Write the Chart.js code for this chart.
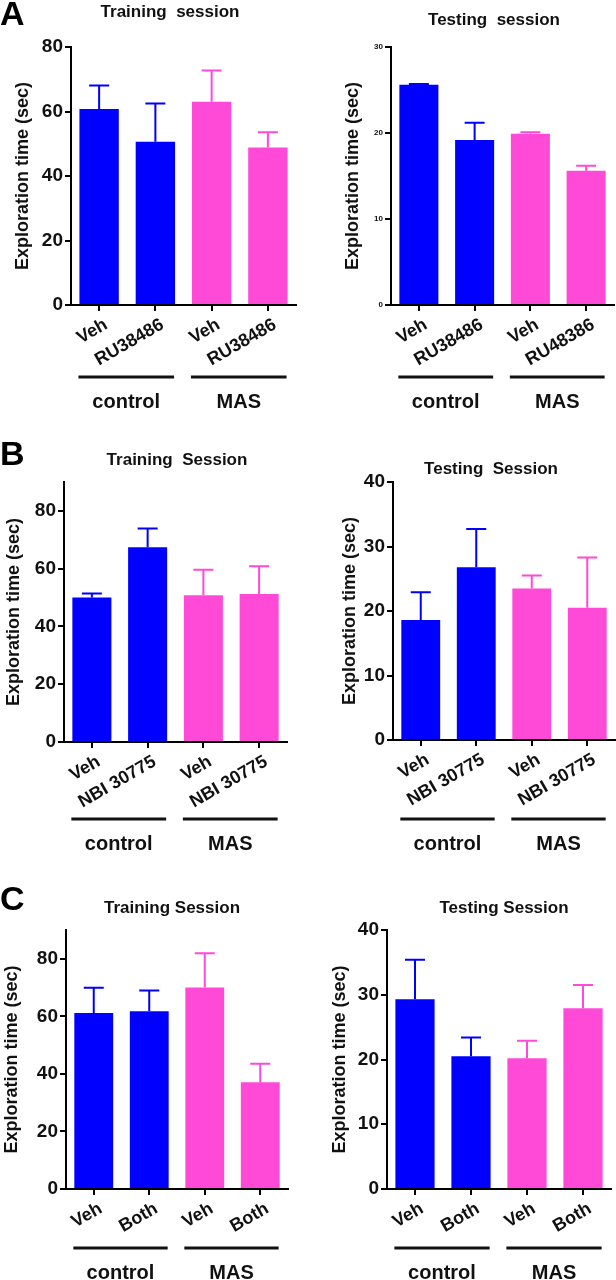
<!DOCTYPE html>
<html><head><meta charset="utf-8">
<script src="https://cdn.jsdelivr.net/npm/chart.js@4.4.1/dist/chart.umd.min.js"></script>
<style>
html,body{margin:0;padding:0;background:#fff;}
body{width:616px;height:1280px;position:relative;overflow:hidden;}
canvas{position:absolute;}
</style></head>
<body>
<script>
// ---------- data ----------
const groupNames = ['control', 'MAS'];
const barColors = ['#0000FF', '#0000FF', '#FF4AD8', '#FF4AD8'];
const yTitle = 'Exploration time (sec)';

const aTrainLabels = ['Veh', 'RU38486', 'Veh', 'RU38486'];
const aTrainMean = [60.8, 50.6, 63.0, 48.8];
const aTrainSem = [7.3, 11.9, 9.7, 4.8];
const aTrainTicks = [0, 20, 40, 60, 80];

const aTestLabels = ['Veh', 'RU38486', 'Veh', 'RU48386'];
const aTestMean = [25.6, 19.2, 19.9, 15.6];
const aTestSem = [0.1, 2.0, 0.2, 0.6];
const aTestTicks = [0, 10, 20, 30];

const bTrainLabels = ['Veh', 'NBI 30775', 'Veh', 'NBI 30775'];
const bTrainMean = [50.0, 67.4, 50.8, 51.2];
const bTrainSem = [1.4, 6.5, 8.8, 9.6];
const bTrainTicks = [0, 20, 40, 60, 80];

const bTestLabels = ['Veh', 'NBI 30775', 'Veh', 'NBI 30775'];
const bTestMean = [18.6, 26.8, 23.5, 20.5];
const bTestSem = [4.3, 5.9, 2.0, 7.8];
const bTestTicks = [0, 10, 20, 30, 40];

const cTrainLabels = ['Veh', 'Both', 'Veh', 'Both'];
const cTrainMean = [61.2, 61.8, 70.0, 37.1];
const cTrainSem = [8.7, 7.2, 11.9, 6.4];
const cTrainTicks = [0, 20, 40, 60, 80];

const cTestLabels = ['Veh', 'Both', 'Veh', 'Both'];
const cTestMean = [29.3, 20.5, 20.2, 27.9];
const cTestSem = [6.1, 2.9, 2.7, 3.6];
const cTestTicks = [0, 10, 20, 30, 40];

// ---------- layout ----------
const FAM = '"Liberation Sans", Arial, Helvetica, sans-serif';

const panels = [
  {labels: aTrainLabels, mean: aTrainMean, sem: aTrainSem, ticks: aTrainTicks, max: 80,
   title: 'Training  session', letter: 'A',
   cx: 0, cy: 0, h: 420, area: {l: 71, r: 296, t: 47, b: 305},
   yTick: 19, titlePad: 12, titleX: 170, titleY: 17, letterY: 25, lineOff: 72},
  {labels: aTestLabels, mean: aTestMean, sem: aTestSem, ticks: aTestTicks, max: 30,
   title: 'Testing  session',
   cx: 308, cy: 0, h: 420, area: {l: 391, r: 614, t: 47, b: 305},
   yTick: 8, titlePad: 34, titleX: 494, titleY: 25, lineOff: 72},
  {labels: bTrainLabels, mean: bTrainMean, sem: bTrainSem, ticks: bTrainTicks, max: 90,
   title: 'Training  Session', letter: 'B',
   cx: 0, cy: 430, h: 430, area: {l: 64, r: 287, t: 482, b: 742},
   yTick: 19, titlePad: 3, titleX: 177, titleY: 465, letterY: 465, lineOff: 77},
  {labels: bTestLabels, mean: bTestMean, sem: bTestSem, ticks: bTestTicks, max: 40,
   title: 'Testing  Session',
   cx: 308, cy: 430, h: 430, area: {l: 393, r: 615, t: 482, b: 740},
   yTick: 19, titlePad: 31, titleX: 491, titleY: 474, lineOff: 79},
  {labels: cTrainLabels, mean: cTrainMean, sem: cTrainSem, ticks: cTrainTicks, max: 90,
   title: 'Training Session', letter: 'C',
   cx: 0, cy: 860, h: 420, area: {l: 66, r: 288, t: 930, b: 1189},
   yTick: 19, titlePad: 1, titleX: 172, titleY: 913, letterY: 910, lineOff: 59},
  {labels: cTestLabels, mean: cTestMean, sem: cTestSem, ticks: cTestTicks, max: 40,
   title: 'Testing Session',
   cx: 308, cy: 860, h: 420, area: {l: 387, r: 611, t: 930, b: 1189},
   yTick: 19, titlePad: 21, titleX: 504, titleY: 913, lineOff: 59}
];

function makePanel(p) {
  const cv = document.createElement('canvas');
  cv.width = 308; cv.height = p.h;
  cv.style.left = p.cx + 'px'; cv.style.top = p.cy + 'px';
  cv.style.width = '308px'; cv.style.height = p.h + 'px';
  document.body.appendChild(cv);

  const XH = 80;
  const padTop = p.area.t - p.cy;
  const padRight = p.cx + 308 - p.area.r;
  const padBottom = p.h - (p.area.b - p.cy) - XH;
  const yw = p.area.l - p.cx;

  const deco = {
    id: 'deco' + p.cx + '_' + p.cy,
    afterDatasetsDraw(chart) {
      const ctx = chart.ctx;
      const meta = chart.getDatasetMeta(0);
      const ys = chart.scales.y;
      ctx.save();
      // error bars (upper SEM)
      meta.data.forEach((bar, i) => {
        const y0 = ys.getPixelForValue(p.mean[i]);
        const y1 = ys.getPixelForValue(p.mean[i] + p.sem[i]);
        ctx.strokeStyle = barColors[i];
        ctx.lineWidth = 2;
        ctx.beginPath();
        ctx.moveTo(bar.x, y0); ctx.lineTo(bar.x, y1);
        ctx.moveTo(bar.x - 10, y1); ctx.lineTo(bar.x + 10, y1);
        ctx.stroke();
      });
      ctx.restore();
    },
    afterDraw(chart) {
      const ctx = chart.ctx;
      const meta = chart.getDatasetMeta(0);
      const area = chart.chartArea;
      ctx.save();
      // group lines + labels
      const ly = area.bottom + p.lineOff;
      for (let g = 0; g < 2; g++) {
        const b0 = meta.data[g * 2], b1 = meta.data[g * 2 + 1];
        const x0 = b0.x - b0.width / 2 - 1, x1 = b1.x + b1.width / 2 - 1;
        ctx.strokeStyle = '#111';
        ctx.lineWidth = 3;
        ctx.beginPath(); ctx.moveTo(x0, ly); ctx.lineTo(x1, ly); ctx.stroke();
        ctx.fillStyle = '#111';
        ctx.font = 'bold 20px ' + FAM;
        ctx.textAlign = 'center'; ctx.textBaseline = 'alphabetic';
        ctx.fillText(groupNames[g], (x0 + x1) / 2, ly + 31);
      }
      // title
      ctx.font = 'bold 17px ' + FAM;
      ctx.textAlign = 'center';
      ctx.fillText(p.title, p.titleX - p.cx, p.titleY - p.cy);
      // panel letter
      if (p.letter) {
        ctx.font = 'bold 34px ' + FAM;
        ctx.textAlign = 'left';
        ctx.fillStyle = '#000';
        ctx.fillText(p.letter, 0, p.letterY - p.cy);
      }
      ctx.restore();
    }
  };

  new Chart(cv, {
    type: 'bar',
    data: {
      labels: p.labels,
      datasets: [{
        data: p.mean,
        backgroundColor: barColors,
        borderWidth: 0,
        barPercentage: 0.7,
        categoryPercentage: 1.0
      }]
    },
    options: {
      responsive: false,
      animation: false,
      devicePixelRatio: 1,
      layout: {padding: {top: padTop, right: padRight, bottom: padBottom, left: 0}},
      plugins: {legend: {display: false}, tooltip: {enabled: false}, title: {display: false}},
      scales: {
        x: {
          offset: true,
          afterFit: s => { s.height = XH; },
          grid: {display: true, offset: false, drawOnChartArea: false, drawTicks: true,
                 tickLength: 6, color: '#000', lineWidth: 2},
          border: {display: true, color: '#000', width: 2},
          ticks: {color: '#111', font: {family: FAM, size: 18, weight: 'bold'},
                  maxRotation: 30, minRotation: 30, autoSkip: false, padding: 3, labelOffset: 7}
        },
        y: {
          min: 0, max: p.max,
          afterBuildTicks: s => { s.ticks = p.ticks.map(v => ({value: v})); },
          afterFit: s => { s.width = yw; },
          grid: {display: true, drawOnChartArea: false, drawTicks: true,
                 tickLength: 6, color: '#000', lineWidth: 2},
          border: {display: true, color: '#000', width: 2},
          ticks: {color: '#111', font: {family: FAM, size: p.yTick, weight: 'bold'}, padding: 2},
          title: {display: true, text: yTitle, color: '#111',
                  font: {family: FAM, size: 18, weight: 'bold'},
                  padding: {top: p.titlePad, bottom: 0}}
        }
      }
    },
    plugins: [deco]
  });
}

panels.forEach(makePanel);
</script>
</body></html>
